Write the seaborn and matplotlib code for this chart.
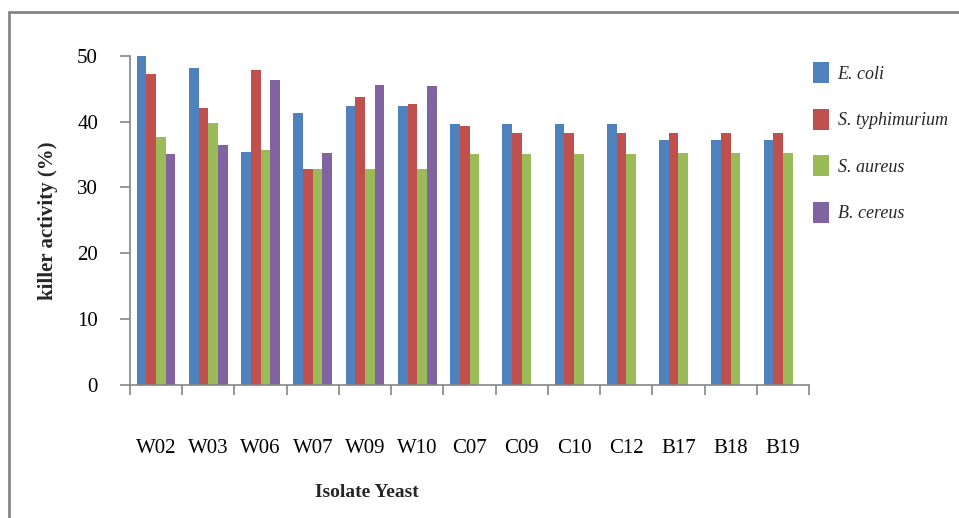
import matplotlib
matplotlib.use("Agg")
import matplotlib.pyplot as plt
from matplotlib.lines import Line2D
from matplotlib.patches import Patch
import numpy as np
import pandas as pd
import seaborn as sns

# Killer activity (%) of yeast isolates against four test bacteria
isolates = ["W02", "W03", "W06", "W07", "W09", "W10", "C07", "C09",
            "C10", "C12", "B17", "B18", "B19"]
bacteria = ["E. coli", "S. typhimurium", "S. aureus", "B. cereus"]

e_coli = [50.0, 48.1, 35.4, 41.3, 42.3, 42.3, 39.6, 39.6, 39.6, 39.6, 37.2, 37.2, 37.2]
s_typhimurium = [47.2, 42.0, 47.9, 32.8, 43.8, 42.6, 39.3, 38.2, 38.2, 38.2, 38.2, 38.2, 38.2]
s_aureus = [37.6, 39.8, 35.7, 32.8, 32.8, 32.8, 35.1, 35.1, 35.1, 35.1, 35.2, 35.2, 35.2]
# B. cereus was only tested on the W isolates
b_cereus = [35.1, 36.4, 46.3, 35.2, 45.5, 45.4]

colors = ["#4F81BD", "#C0504D", "#9BBB59", "#8064A2"]

rows = []
for name, vals in zip(bacteria, [e_coli, s_typhimurium, s_aureus, b_cereus]):
    for iso, v in zip(isolates, vals):
        rows.append({"Isolate": iso, "Bacterium": name, "Activity": v})
df = pd.DataFrame(rows)

sns.set_theme(style="white")
plt.rcParams["font.family"] = ["Liberation Serif", "DejaVu Serif"]

fig = plt.figure(figsize=(9.59, 5.18), dpi=100)
ax = fig.add_axes([130 / 959, 1 - 385 / 518, 679 / 959, 329.3 / 518])

sns.barplot(data=df, x="Isolate", y="Activity", hue="Bacterium",
            order=isolates, hue_order=bacteria, palette=colors,
            width=0.74, errorbar=None, saturation=1, linewidth=0,
            ax=ax, legend=False)

ax.set_xlim(-0.5, len(isolates) - 0.5)
ax.set_ylim(0, 50)
ax.set_yticks([0, 10, 20, 30, 40, 50])

gray = "#868686"
for side in ["top", "right"]:
    ax.spines[side].set_visible(False)
for side in ["left", "bottom"]:
    ax.spines[side].set_color(gray)
    ax.spines[side].set_linewidth(1.2)

# category boundary ticks on the x axis, labels sit well below
ax.set_xticks(np.arange(-0.5, len(isolates)), minor=True)
ax.tick_params(axis="x", which="minor", bottom=True, length=7, width=1.2,
               color=gray, direction="out")
ax.tick_params(axis="x", which="major", bottom=True, length=0, pad=39,
               labelsize=15, labelcolor="black")
ax.tick_params(axis="y", which="major", left=True, length=7, width=1.2,
               color=gray, direction="out", pad=16, labelsize=15,
               labelcolor="black")

ax.set_xlabel("Isolate Yeast", fontsize=14, fontweight="bold")
ax.xaxis.set_label_coords(0.349, -99 / 329.3)
ax.set_ylabel("killer activity (%)", fontsize=15, fontweight="bold")
ax.yaxis.set_label_coords(-72 / 679, 0.5)

handles = [Patch(facecolor=c, edgecolor="none") for c in colors]
fig.legend(handles, bacteria, loc="upper left",
           bbox_to_anchor=(806 / 959, 1 - 55 / 518), frameon=False,
           prop={"family": ["Liberation Serif"], "style": "italic", "size": 13},
           handlelength=0.9, handleheight=1.4, handletextpad=0.45,
           labelspacing=1.42, borderaxespad=0)

# chart-area border on the left and top edges
fig.add_artist(Line2D([9 / 959, 9 / 959], [0, 1 - 12 / 518],
                      transform=fig.transFigure, color=gray, lw=2))
fig.add_artist(Line2D([9 / 959, 1], [1 - 12 / 518, 1 - 12 / 518],
                      transform=fig.transFigure, color=gray, lw=2))

fig.savefig("out.png", dpi=100)
